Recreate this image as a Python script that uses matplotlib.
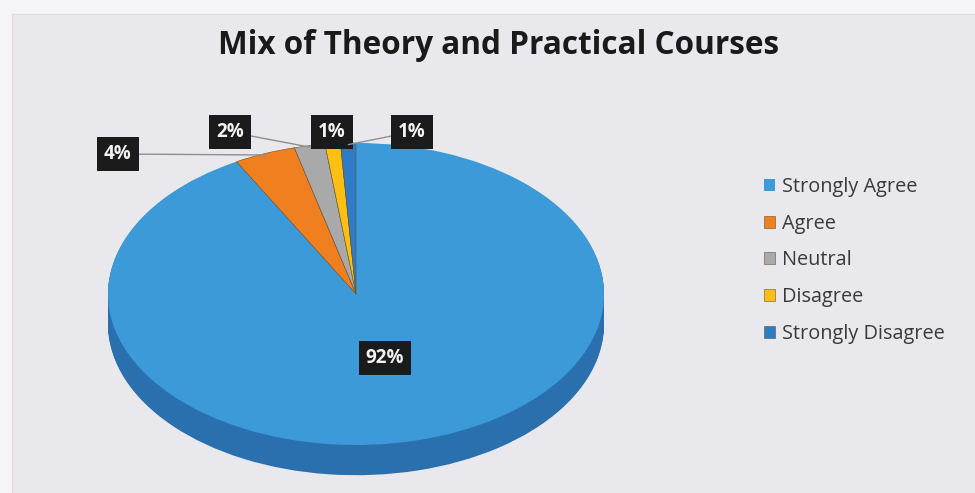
import numpy as np
import matplotlib
matplotlib.use("Agg")
import matplotlib.pyplot as plt
from matplotlib.patches import Rectangle

# data
categories = ["Strongly Agree", "Agree", "Neutral", "Disagree", "Strongly Disagree"]
values = [92, 4, 2, 1, 1]
top_colors = ["#3c9ad8", "#f0801f", "#a9a9a9", "#fdbf12", "#2f7cc6"]
side_colors = ["#2a6fae", "#b65a12", "#7a7a7a", "#c08f0a", "#1f5a96"]

W, H = 975, 493
BG = "#f5f4f6"
PANEL = "#e9e8ec"

plt.rcParams["font.family"] = ["Open Sans", "DejaVu Sans"]

fig = plt.figure(figsize=(W / 100, H / 100), dpi=100, facecolor=BG)
fig.patches.append(Rectangle((12 / W, -0.01), 1, 1.01 - 14 / H, transform=fig.transFigure,
                             fc=PANEL, ec="#e6d6d4", lw=0.8, zorder=-10))


def px(x, y):
    # pixel (from top-left) -> figure fraction
    return x / W, 1 - y / H


# pie axes: x -1..1 -> 108..604 px, y 1..-1 -> 143..445 px
left, right = 108, 604
top, mid_bottom = 143, 445
depth = 0.2
ybot = -1 - depth - 0.05
bottom_px = mid_bottom + (-1 - ybot) * (mid_bottom - top) / 2
ax = fig.add_axes([left / W, 1 - bottom_px / H, (right - left) / W, (bottom_px - top) / H])
ax.set_facecolor("none")

# side of the 3d pie
for d in np.linspace(depth, 0.005, 30):
    ax.pie(values, colors=side_colors, startangle=90, counterclock=False,
           center=(0, -d), radius=1, wedgeprops=dict(linewidth=0))

wedges, _ = ax.pie(values, colors=top_colors, startangle=90, counterclock=False,
                   radius=1, wedgeprops=dict(linewidth=0))
# thin dark edges between the small slices
for w in wedges[1:]:
    w.set_edgecolor("#6a5030")
    w.set_linewidth(0.4)
ax.set_aspect("auto")
ax.set_xlim(-1, 1)
ax.set_ylim(ybot, 1)
ax.axis("off")

# labels
box = dict(boxstyle="square,pad=0.38", fc="#1b1b1b", ec="none")
label_pos = [(385, 358), (118, 154), (230, 132), (332, 132), (412, 132)]
for i, (v, (lx, ly)) in enumerate(zip(values, label_pos)):
    txt = f"{v}%"
    fx, fy = px(lx, ly)
    if i == 0:
        fig.text(fx, fy, txt, color="#f2f2f2", fontsize=13.5, fontweight="bold",
                 ha="center", va="center", bbox=box)
        continue
    w = wedges[i]
    ang = np.deg2rad((w.theta1 + w.theta2) / 2)
    ax.annotate(txt, xy=(0.99 * np.cos(ang), 0.99 * np.sin(ang)),
                xytext=(fx, fy), textcoords="figure fraction",
                color="#f2f2f2", fontsize=13.5, fontweight="bold",
                ha="center", va="center", bbox=box,
                arrowprops=dict(arrowstyle="-", color="#8f8f8f", lw=1,
                                shrinkA=0, shrinkB=0))

fig.text(0.511, 1 - 45 / H, "Mix of Theory and Practical Courses",
         fontsize=22.7, fontweight="bold", color="#1a1a1a", ha="center", va="center")

fig.legend(wedges, categories, loc="upper left", bbox_to_anchor=px(746, 159),
           frameon=False, fontsize=14.3, labelspacing=0.84, handlelength=0.55,
           handleheight=0.55, handletextpad=0.35, labelcolor="#3a3a3a")

fig.savefig("out.png", dpi=100, facecolor=BG)
